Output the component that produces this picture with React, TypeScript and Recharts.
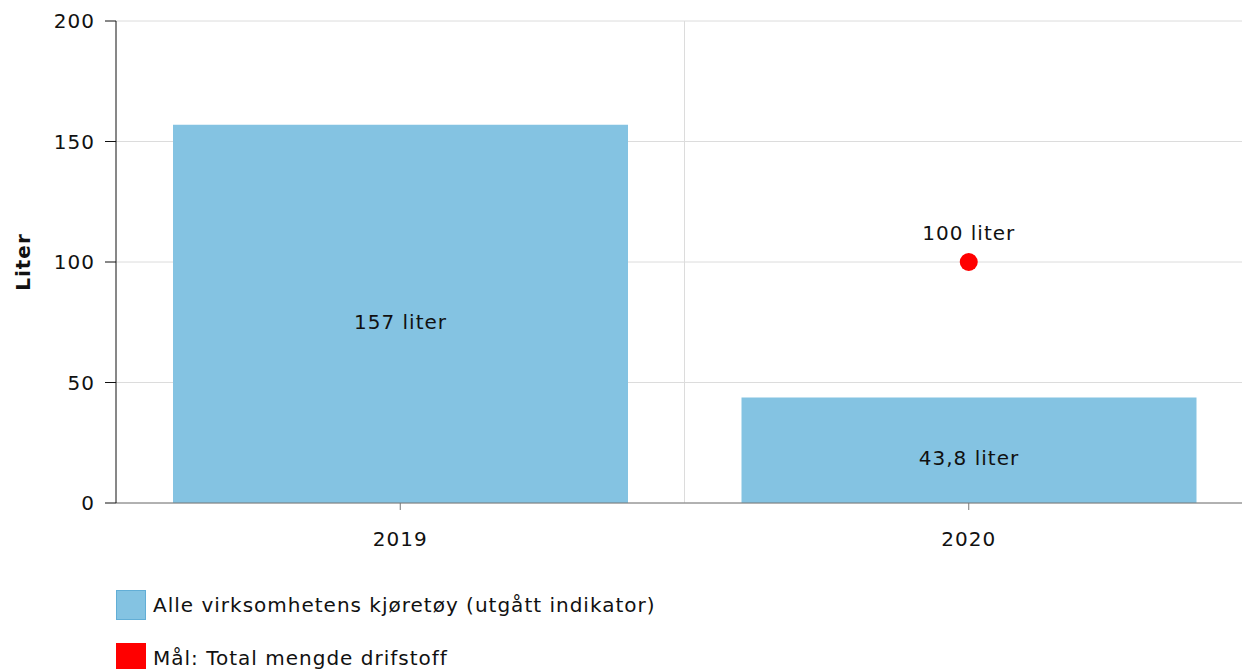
import { Bar, CartesianGrid, ComposedChart, LabelList, Scatter, XAxis, YAxis } from "recharts";

const years = ["2019", "2020"];
const vehicleLiters = [157, 43.8];
const goalLiters: (number | null)[] = [null, 100];
const yTicks = [0, 50, 100, 150, 200];
const seriesNames = ["Alle virksomhetens kjøretøy (utgått indikator)", "Mål: Total mengde drifstoff"];

const BAR = "#84C3E2";
const GOAL = "#FF0000";
const FONT = "Verdana, 'DejaVu Sans', sans-serif";
const SPACING = 1;

const data = years.map((year, i) => ({ year, value: vehicleLiters[i], goal: goalLiters[i] }));

const fmt = (v: unknown) => (v == null ? "" : `${String(v).replace(".", ",")} liter`);

export default function App() {
  return (
    <div style={{ position: "absolute", left: 0, top: 0, width: 1242, height: 669, overflow: "hidden", fontFamily: FONT, background: "#fff", letterSpacing: SPACING }}>
      <ComposedChart
        width={1262}
        height={669}
        data={data}
        margin={{ top: 21, right: 9, bottom: 106, left: 0 }}
        style={{ fontFamily: FONT }}
      >
        <CartesianGrid
          stroke="#dcdcdc"
          verticalCoordinatesGenerator={({ offset }: any) => [offset.left + offset.width / 2]}
        />
        <XAxis
          dataKey="year"
          height={60}
          tick={{ fill: "#111", fontSize: 20, dy: 20 }}
          axisLine={{ stroke: "#777" }}
          tickLine={{ stroke: "#777" }}
          tickSize={7}
        />
        <YAxis
          domain={[0, 200]}
          ticks={yTicks}
          width={116}
          tick={{ fill: "#111", fontSize: 20, dx: -8 }}
          axisLine={{ stroke: "#111" }}
          tickLine={{ stroke: "#111" }}
          tickSize={11}
          label={({ viewBox }: any) => (
            <text
              x={23}
              y={viewBox.y + viewBox.height / 2}
              transform={`rotate(-90 23 ${viewBox.y + viewBox.height / 2})`}
              textAnchor="middle"
              dominantBaseline="central"
              fontSize={20}
              fontWeight="bold"
              fill="#111"
            >
              Liter
            </text>
          )}
        />
        <Bar dataKey="value" fill={BAR} barSize={455} isAnimationActive={false}>
          <LabelList dataKey="value" position="center" formatter={fmt} fill="#111" fontSize={20} dy={8} />
        </Bar>
        <Scatter dataKey="goal" fill={GOAL} isAnimationActive={false} shape={(p: any) => (p.cy == null ? <g /> : <circle cx={p.cx} cy={p.cy} r={9} fill={GOAL} />)}>
          <LabelList
            dataKey="goal"
            content={(p: any) =>
              p.value == null ? null : (
                <text x={p.x + (p.width || 0) / 2} y={p.y + (p.height || 0) / 2 - 29} textAnchor="middle" dominantBaseline="central" fontSize={20} fill="#111">
                  {fmt(p.value)}
                </text>
              )
            }
          />
        </Scatter>
      </ComposedChart>
      <div style={{ position: "absolute", left: 116, top: 590, fontSize: 20, color: "#111" }}>
        {seriesNames.map((name, i) => (
          <div key={name} style={{ display: "flex", alignItems: "center", height: 30, marginBottom: 23 }}>
            <span
              style={{
                width: i === 0 ? 28 : 30,
                height: i === 0 ? 28 : 30,
                background: i === 0 ? BAR : GOAL,
                border: i === 0 ? "1px solid #62aed6" : "none",
                marginRight: 7,
                display: "inline-block",
              }}
            />
            <span>{name}</span>
          </div>
        ))}
      </div>
    </div>
  );
}
